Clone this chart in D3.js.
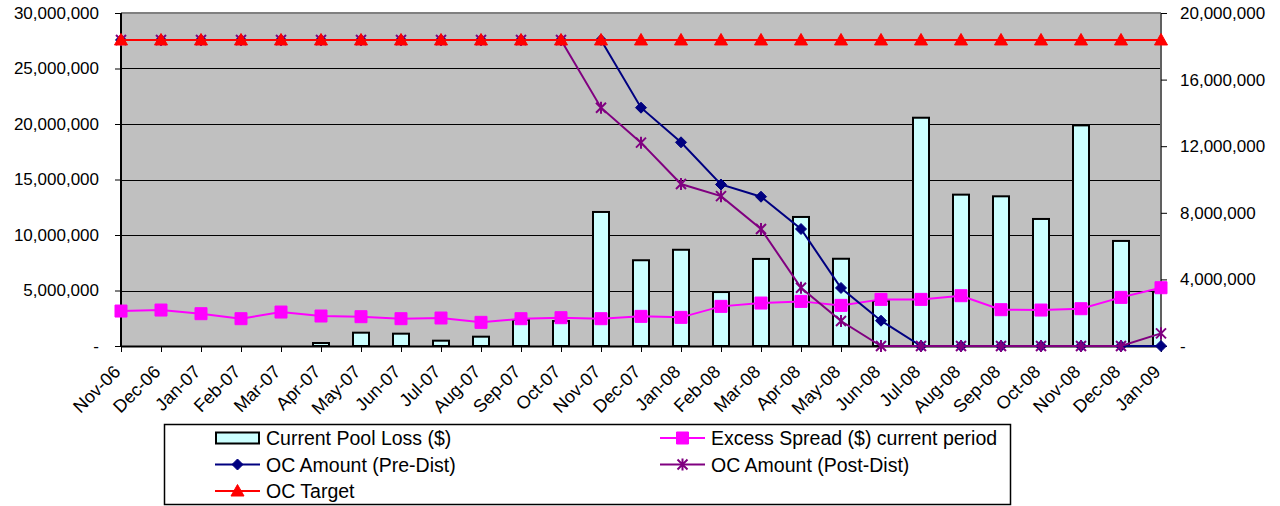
<!DOCTYPE html>
<html>
<head>
<meta charset="utf-8">
<script src="https://cdn.jsdelivr.net/npm/d3@7"></script>
<style>
  body { margin: 0; background: #fff; }
  svg { display: block; font-family: "Liberation Sans", Arial, sans-serif; }
</style>
</head>
<body>
<svg id="chart"></svg>
<script>
// Data
const months = ['Nov-06','Dec-06','Jan-07','Feb-07','Mar-07','Apr-07','May-07','Jun-07','Jul-07',
  'Aug-07','Sep-07','Oct-07','Nov-07','Dec-07','Jan-08','Feb-08','Mar-08','Apr-08','May-08',
  'Jun-08','Jul-08','Aug-08','Sep-08','Oct-08','Nov-08','Dec-08','Jan-09'];

// right (secondary) axis
const poolLoss = [0, 0, 0, 0, 0, 180000, 800000, 740000, 320000, 560000, 1560000, 1500000,
  8050000, 5150000, 5780000, 3240000, 5230000, 7750000, 5240000, 2700000, 13710000, 9090000,
  8990000, 7630000, 13250000, 6310000, 3260000];
const excessSpread = [2100000, 2160000, 1940000, 1640000, 2040000, 1800000, 1760000, 1640000,
  1680000, 1420000, 1640000, 1700000, 1640000, 1780000, 1720000, 2380000, 2580000, 2680000,
  2440000, 2800000, 2800000, 3020000, 2180000, 2160000, 2240000, 2920000, 3500000];

// left (primary) axis
const ocPre = [27570000, 27570000, 27570000, 27570000, 27570000, 27570000, 27570000, 27570000,
  27570000, 27570000, 27570000, 27570000, 27570000, 21470000, 18350000, 14550000, 13450000,
  10540000, 5230000, 2280000, 0, 0, 0, 0, 0, 0, 0];
const ocPost = [27570000, 27570000, 27570000, 27570000, 27570000, 27570000, 27570000, 27570000,
  27570000, 27570000, 27570000, 27570000, 21470000, 18320000, 14590000, 13500000, 10540000,
  5250000, 2250000, 0, 0, 0, 0, 0, 0, 0, 1140000];
const ocTarget = [27570000, 27570000, 27570000, 27570000, 27570000, 27570000, 27570000, 27570000,
  27570000, 27570000, 27570000, 27570000, 27570000, 27570000, 27570000, 27570000, 27570000,
  27570000, 27570000, 27570000, 27570000, 27570000, 27570000, 27570000, 27570000, 27570000, 27570000];

const leftTicks = [0, 5000000, 10000000, 15000000, 20000000, 25000000, 30000000];
const rightTicks = [0, 4000000, 8000000, 12000000, 16000000, 20000000];

const width = 1280, height = 506;
const marginLeft = 121, marginRight = 119, marginTop = 13, marginBottom = 160;
const fontSize = 17;

const svg = d3.select('#chart')
  .attr('width', width)
  .attr('height', height)
  .attr('viewBox', [0, 0, width, height]);

const x = d3.scalePoint(months, [marginLeft, width - marginRight]);
const yLeft = d3.scaleLinear([0, 30000000], [height - marginBottom, marginTop]);
const yRight = d3.scaleLinear([0, 20000000], [height - marginBottom, marginTop]);

const fmt = d => d === 0 ? '-' : d3.format(',')(d);

// plot area
svg.append('defs').append('clipPath').attr('id', 'plot-clip')
  .append('rect')
  .attr('x', marginLeft).attr('y', marginTop)
  .attr('width', width - marginLeft - marginRight)
  .attr('height', height - marginTop - marginBottom);

svg.append('rect')
  .attr('x', marginLeft).attr('y', marginTop)
  .attr('width', width - marginLeft - marginRight)
  .attr('height', height - marginTop - marginBottom)
  .attr('fill', '#c0c0c0');

// gridlines
svg.append('g')
  .selectAll('line')
  .data(leftTicks.slice(1, -1))
  .join('line')
  .attr('x1', marginLeft).attr('x2', width - marginRight)
  .attr('y1', d => Math.round(yLeft(d)) + 0.5).attr('y2', d => Math.round(yLeft(d)) + 0.5)
  .attr('stroke', '#000').attr('stroke-width', 1.2);

// top border
svg.append('line')
  .attr('x1', marginLeft).attr('x2', width - marginRight)
  .attr('y1', marginTop).attr('y2', marginTop)
  .attr('stroke', '#808080').attr('stroke-width', 2);

// bars
const barW = 16;
svg.append('g')
  .attr('clip-path', 'url(#plot-clip)')
  .selectAll('rect')
  .data(poolLoss.map((v, i) => [months[i], v]).filter(d => d[1] > 0))
  .join('rect')
  .attr('x', d => x(d[0]) - barW / 2)
  .attr('y', d => yRight(d[1]))
  .attr('width', barW)
  .attr('height', d => yRight(0) - yRight(d[1]))
  .attr('fill', '#ccffff')
  .attr('stroke', '#000')
  .attr('stroke-width', 2);

// axes
svg.append('g')
  .attr('transform', `translate(${marginLeft},0)`)
  .call(d3.axisLeft(yLeft).tickValues(leftTicks).tickFormat(fmt).tickSize(6).tickPadding(16))
  .call(g => g.select('.domain').attr('stroke', '#000').attr('stroke-width', 2).attr('d', `M0,${marginTop}V${height - marginBottom}`))
  .call(g => g.selectAll('.tick line').attr('stroke', '#000'))
  .call(g => g.selectAll('text').attr('font-size', fontSize).attr('fill', '#000').attr('font-family', null));

svg.append('g')
  .attr('transform', `translate(${width - marginRight},0)`)
  .call(d3.axisRight(yRight).tickValues(rightTicks).tickFormat(fmt).tickSize(6).tickPadding(13))
  .call(g => g.select('.domain').attr('stroke', '#606060').attr('stroke-width', 2).attr('d', `M0,${marginTop}V${height - marginBottom}`))
  .call(g => g.selectAll('.tick line').attr('stroke', '#000'))
  .call(g => g.selectAll('text').attr('font-size', fontSize).attr('fill', '#000').attr('font-family', null));

svg.append('g')
  .attr('transform', `translate(0,${height - marginBottom})`)
  .call(d3.axisBottom(x).tickSize(6).tickSizeOuter(0))
  .call(g => g.select('.domain').attr('stroke', '#000').attr('stroke-width', 2))
  .call(g => g.selectAll('.tick line').attr('stroke', '#000'))
  .call(g => g.selectAll('text')
    .attr('font-size', 18).attr('fill', '#000').attr('font-family', null)
    .attr('text-anchor', 'end')
    .attr('y', 0).attr('dy', 0)
    .attr('transform', 'translate(0,27) rotate(-45)'));

// marker shapes
const markers = {
  square: 'M-6,-6H6V6H-6Z',
  diamond: 'M0,-5.5L5.5,0L0,5.5L-5.5,0Z',
  triangle: 'M0,-6.5L6.5,5L-6.5,5Z',
  star: 'M-5,-5L5,5M-5,5L5,-5M0,-6V6'
};

const series = [
  {name: 'Excess Spread ($) current period', values: excessSpread, y: yRight, color: '#ff00ff', marker: 'square'},
  {name: 'OC Amount (Pre-Dist)', values: ocPre, y: yLeft, color: '#000080', marker: 'diamond'},
  {name: 'OC Amount (Post-Dist)', values: ocPost, y: yLeft, color: '#800080', marker: 'star'},
  {name: 'OC Target', values: ocTarget, y: yLeft, color: '#ff0000', marker: 'triangle'}
];

const lines = svg.append('g');
series.forEach(s => {
  const line = d3.line()
    .x((d, i) => x(months[i]))
    .y(d => s.y(d));
  const g = lines.append('g');
  g.append('path')
    .attr('d', line(s.values))
    .attr('fill', 'none')
    .attr('stroke', s.color)
    .attr('stroke-width', 2);
  g.selectAll('path.mk')
    .data(s.values)
    .join('path')
    .attr('class', 'mk')
    .attr('transform', (d, i) => `translate(${x(months[i])},${s.y(d)})`)
    .attr('d', markers[s.marker])
    .attr('fill', s.marker === 'star' ? 'none' : s.color)
    .attr('stroke', s.color)
    .attr('stroke-width', s.marker === 'star' ? 2 : 1);
});

// legend
const legend = svg.append('g').attr('transform', 'translate(164,424)');
legend.append('rect')
  .attr('x', 0.5).attr('y', 0.5)
  .attr('width', 846).attr('height', 80)
  .attr('fill', '#fff').attr('stroke', '#000').attr('stroke-width', 1.5);

const legendItems = [
  {name: 'Current Pool Loss ($)', marker: 'bar', col: 0, row: 0},
  {name: series[0].name, marker: 'square', color: series[0].color, col: 1, row: 0},
  {name: series[1].name, marker: 'diamond', color: series[1].color, col: 0, row: 1},
  {name: series[2].name, marker: 'star', color: series[2].color, col: 1, row: 1},
  {name: series[3].name, marker: 'triangle', color: series[3].color, col: 0, row: 2}
];

const item = legend.selectAll('g.item')
  .data(legendItems)
  .join('g')
  .attr('class', 'item')
  .attr('transform', d => `translate(${d.col ? 496 : 51},${14 + d.row * 26.5})`);

item.each(function(d) {
  const g = d3.select(this);
  if (d.marker === 'bar') {
    g.append('rect')
      .attr('x', 1).attr('y', -5.5).attr('width', 43).attr('height', 11)
      .attr('fill', '#ccffff').attr('stroke', '#000').attr('stroke-width', 2);
  } else {
    g.append('line')
      .attr('x1', 0).attr('x2', 45)
      .attr('stroke', d.color).attr('stroke-width', 2);
    g.append('path')
      .attr('transform', 'translate(22.5,0)')
      .attr('d', markers[d.marker])
      .attr('fill', d.marker === 'star' ? 'none' : d.color)
      .attr('stroke', d.color)
      .attr('stroke-width', d.marker === 'star' ? 2 : 1);
  }
  g.append('text')
    .attr('x', 51)
    .attr('dy', '0.36em')
    .attr('font-size', 19.5)
    .attr('fill', '#000')
    .text(d.name);
});
</script>
</body>
</html>
